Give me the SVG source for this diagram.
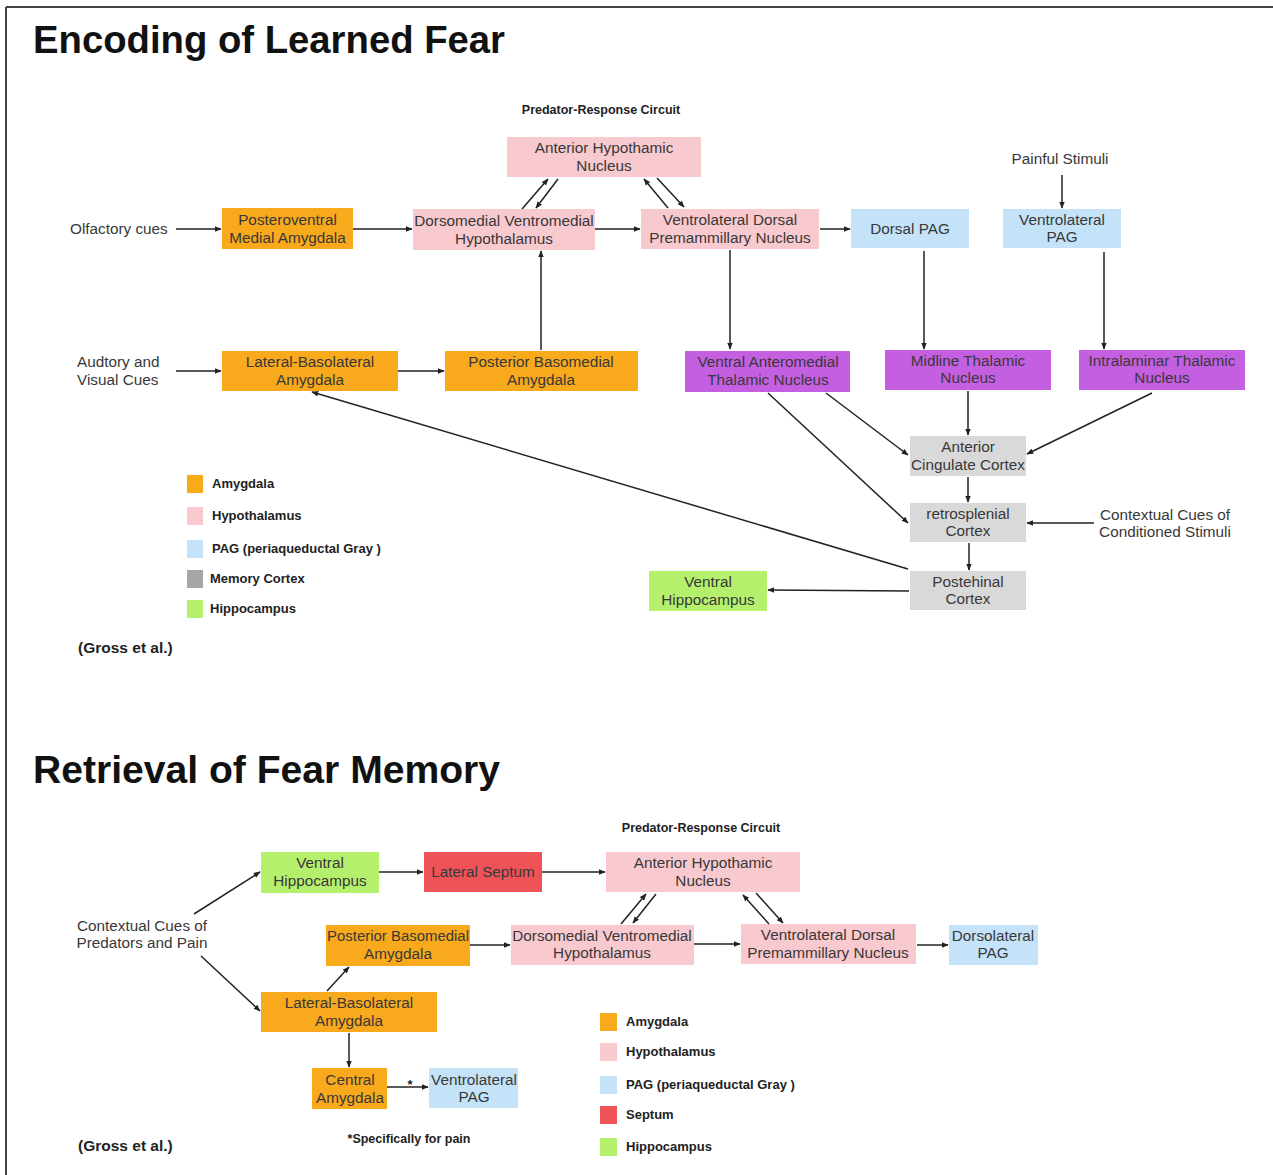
<svg xmlns="http://www.w3.org/2000/svg" width="1273" height="1175" viewBox="0 0 1273 1175">
<style>
  .t{font-family:"Liberation Sans",Arial,sans-serif;font-size:15.3px;fill:#383838;text-anchor:middle}
  .f{font-family:"Liberation Sans",Arial,sans-serif;font-size:15.3px;fill:#383838}
  .title{font-family:"Liberation Sans",Arial,sans-serif;font-size:38px;font-weight:bold;fill:#111}
  .lg{font-family:"Liberation Sans",Arial,sans-serif;font-size:13px;font-weight:bold;fill:#222}
  .sm{font-family:"Liberation Sans",Arial,sans-serif;font-size:12.5px;font-weight:bold;fill:#222;text-anchor:middle}
  .cite{font-family:"Liberation Sans",Arial,sans-serif;font-size:15.5px;font-weight:bold;fill:#222}
  .amy{fill:#f8a91c}
  .hyp{fill:#f8c9cf}
  .pag{fill:#c4e3f8}
  .thal{fill:#c55fe2}
  .ctx{fill:#d9d9d9}
  .hip{fill:#b5f06c}
  .sep{fill:#ef5358}
  .mem{fill:#a6a6a6}
  .c line{stroke:#222;stroke-width:1.5;fill:none;marker-end:url(#ah)}
</style>
<defs>
  <marker id="ah" viewBox="0 0 10 10" refX="9" refY="5" markerWidth="7" markerHeight="7" markerUnits="userSpaceOnUse" orient="auto">
    <path d="M0,1 L10,5 L0,9 z" fill="#222"/>
  </marker>
</defs>
<rect x="0" y="0" width="1273" height="1175" fill="#fff"/>
<g id="frame" stroke="#444" stroke-width="2">
  <line x1="6" y1="7" x2="1273" y2="7"/>
  <line x1="6" y1="7" x2="6" y2="1175"/>
</g>

<!-- ===== Encoding of Learned Fear ===== -->
<text class="title" x="33" y="53" textLength="472" lengthAdjust="spacingAndGlyphs">Encoding of Learned Fear</text>
<text class="sm" x="601" y="114">Predator-Response Circuit</text>
<text class="f" x="70" y="234">Olfactory cues</text>
<text class="f" x="77" y="367">Audtory and</text>
<text class="f" x="77" y="385">Visual Cues</text>
<text class="t" x="1060" y="164">Painful Stimuli</text>
<text class="t" x="1165" y="520">Contextual Cues of</text>
<text class="t" x="1165" y="537">Conditioned Stimuli</text>

<g id="e-ahn"><rect class="hyp" x="507" y="137" width="194" height="40"/><text class="t" x="604" y="153">Anterior Hypothamic</text><text class="t" x="604" y="171">Nucleus</text></g>
<g id="e-pvma"><rect class="amy" x="222" y="208" width="131" height="41"/><text class="t" x="287.5" y="225">Posteroventral</text><text class="t" x="287.5" y="243">Medial Amygdala</text></g>
<g id="e-dmvh"><rect class="hyp" x="413" y="209" width="182" height="41"/><text class="t" x="504" y="226">Dorsomedial Ventromedial</text><text class="t" x="504" y="244">Hypothalamus</text></g>
<g id="e-vdpn"><rect class="hyp" x="641" y="209" width="178" height="40"/><text class="t" x="730" y="225">Ventrolateral Dorsal</text><text class="t" x="730" y="243">Premammillary Nucleus</text></g>
<g id="e-dpag"><rect class="pag" x="851" y="209" width="118" height="39"/><text class="t" x="910" y="234">Dorsal PAG</text></g>
<g id="e-vlpag"><rect class="pag" x="1003" y="209" width="118" height="39"/><text class="t" x="1062" y="225">Ventrolateral</text><text class="t" x="1062" y="242">PAG</text></g>
<g id="e-lba"><rect class="amy" x="222" y="351" width="176" height="40"/><text class="t" x="310" y="367">Lateral-Basolateral</text><text class="t" x="310" y="385">Amygdala</text></g>
<g id="e-pbma"><rect class="amy" x="445" y="351" width="193" height="40"/><text class="t" x="541" y="367">Posterior Basomedial</text><text class="t" x="541" y="385">Amygdala</text></g>
<g id="e-vamt"><rect class="thal" x="685" y="351" width="165" height="41"/><text class="t" x="768" y="367">Ventral Anteromedial</text><text class="t" x="768" y="385">Thalamic Nucleus</text></g>
<g id="e-mtn"><rect class="thal" x="885" y="350" width="166" height="40"/><text class="t" x="968" y="366">Midline Thalamic</text><text class="t" x="968" y="383">Nucleus</text></g>
<g id="e-itn"><rect class="thal" x="1079" y="350" width="166" height="40"/><text class="t" x="1162" y="366">Intralaminar Thalamic</text><text class="t" x="1162" y="383">Nucleus</text></g>
<g id="e-acc"><rect class="ctx" x="910" y="436" width="116" height="40"/><text class="t" x="968" y="452">Anterior</text><text class="t" x="968" y="470">Cingulate Cortex</text></g>
<g id="e-rsc"><rect class="ctx" x="910" y="503" width="116" height="39"/><text class="t" x="968" y="519">retrosplenial</text><text class="t" x="968" y="536">Cortex</text></g>
<g id="e-poc"><rect class="ctx" x="910" y="571" width="116" height="39"/><text class="t" x="968" y="587">Postehinal</text><text class="t" x="968" y="604">Cortex</text></g>
<g id="e-vh"><rect class="hip" x="649" y="571" width="118" height="40"/><text class="t" x="708" y="587">Ventral</text><text class="t" x="708" y="605">Hippocampus</text></g>

<g id="e-legend">
  <rect class="amy" x="187" y="475" width="16" height="18"/><text class="lg" x="212" y="488">Amygdala</text>
  <rect class="hyp" x="187" y="507" width="16" height="18"/><text class="lg" x="212" y="520">Hypothalamus</text>
  <rect class="pag" x="187" y="540" width="16" height="18"/><text class="lg" x="212" y="553">PAG (periaqueductal Gray )</text>
  <rect class="mem" x="187" y="570" width="16" height="18"/><text class="lg" x="210" y="583">Memory Cortex</text>
  <rect class="hip" x="187" y="600" width="16" height="18"/><text class="lg" x="210" y="613">Hippocampus</text>
</g>
<text class="cite" x="78" y="653">(Gross et al.)</text>

<g id="e-connectors" class="c">
  <line x1="176" y1="229" x2="221" y2="229"/>
  <line x1="353" y1="229" x2="412" y2="229"/>
  <line x1="595" y1="229" x2="640" y2="229"/>
  <line x1="820" y1="229" x2="850" y2="229"/>
  <line x1="1062" y1="175" x2="1062" y2="208"/>
  <line x1="522" y1="209" x2="548" y2="179"/>
  <line x1="558" y1="179" x2="536" y2="208"/>
  <line x1="668" y1="208" x2="644" y2="179"/>
  <line x1="657" y1="178" x2="684" y2="207"/>
  <line x1="541" y1="350" x2="541" y2="251"/>
  <line x1="176" y1="371" x2="221" y2="371"/>
  <line x1="398" y1="371" x2="444" y2="371"/>
  <line x1="730" y1="250" x2="730" y2="349"/>
  <line x1="924" y1="251" x2="924" y2="349"/>
  <line x1="1104" y1="252" x2="1104" y2="349"/>
  <line x1="968" y1="391" x2="968" y2="435"/>
  <line x1="826" y1="393" x2="908" y2="455"/>
  <line x1="1152" y1="393" x2="1027" y2="454"/>
  <line x1="768" y1="393" x2="908" y2="523"/>
  <line x1="968" y1="477" x2="968" y2="502"/>
  <line x1="1094" y1="523" x2="1027" y2="523"/>
  <line x1="969" y1="543" x2="969" y2="570"/>
  <line x1="909" y1="591" x2="768" y2="590"/>
  <line x1="908" y1="569" x2="312" y2="392"/>
</g>

<!-- ===== Retrieval of Fear Memory ===== -->
<text class="title" x="33" y="783" textLength="467" lengthAdjust="spacingAndGlyphs">Retrieval of Fear Memory</text>
<text class="sm" x="701" y="832">Predator-Response Circuit</text>
<text class="t" x="142" y="931">Contextual Cues of</text>
<text class="t" x="142" y="948">Predators and Pain</text>

<g id="r-vh"><rect class="hip" x="261" y="852" width="118" height="41"/><text class="t" x="320" y="868">Ventral</text><text class="t" x="320" y="886">Hippocampus</text></g>
<g id="r-ls"><rect class="sep" x="424" y="852" width="118" height="40"/><text class="t" x="483" y="877">Lateral Septum</text></g>
<g id="r-ahn"><rect class="hyp" x="606" y="852" width="194" height="40"/><text class="t" x="703" y="868">Anterior Hypothamic</text><text class="t" x="703" y="886">Nucleus</text></g>
<g id="r-pbma"><rect class="amy" x="326" y="925" width="144" height="41"/><text class="t" x="398" y="941" textLength="142" lengthAdjust="spacingAndGlyphs">Posterior Basomedial</text><text class="t" x="398" y="959">Amygdala</text></g>
<g id="r-dmvh"><rect class="hyp" x="511" y="925" width="183" height="40"/><text class="t" x="602" y="941">Dorsomedial Ventromedial</text><text class="t" x="602" y="958">Hypothalamus</text></g>
<g id="r-vdpn"><rect class="hyp" x="741" y="924" width="175" height="40"/><text class="t" x="828" y="940">Ventrolateral Dorsal</text><text class="t" x="828" y="958">Premammillary Nucleus</text></g>
<g id="r-dlpag"><rect class="pag" x="949" y="925" width="89" height="40"/><text class="t" x="993" y="941">Dorsolateral</text><text class="t" x="993" y="958">PAG</text></g>
<g id="r-lba"><rect class="amy" x="261" y="992" width="176" height="40"/><text class="t" x="349" y="1008">Lateral-Basolateral</text><text class="t" x="349" y="1026">Amygdala</text></g>
<g id="r-ca"><rect class="amy" x="312" y="1068" width="75" height="41"/><text class="t" x="350" y="1085">Central</text><text class="t" x="350" y="1103">Amygdala</text></g>
<g id="r-vlpag"><rect class="pag" x="429" y="1068" width="89" height="40"/><text class="t" x="474" y="1085">Ventrolateral</text><text class="t" x="474" y="1102">PAG</text></g>

<text class="sm" x="410" y="1089" style="font-size:13px">*</text>
<text class="sm" x="409" y="1143">*Specifically for pain</text>
<text class="cite" x="78" y="1151">(Gross et al.)</text>

<g id="r-legend">
  <rect class="amy" x="600" y="1013" width="17" height="18"/><text class="lg" x="626" y="1026">Amygdala</text>
  <rect class="hyp" x="600" y="1043" width="17" height="18"/><text class="lg" x="626" y="1056">Hypothalamus</text>
  <rect class="pag" x="600" y="1076" width="17" height="18"/><text class="lg" x="626" y="1089">PAG (periaqueductal Gray )</text>
  <rect class="sep" x="600" y="1106" width="17" height="18"/><text class="lg" x="626" y="1119">Septum</text>
  <rect class="hip" x="600" y="1138" width="17" height="18"/><text class="lg" x="626" y="1151">Hippocampus</text>
</g>

<g id="r-connectors" class="c">
  <line x1="194" y1="914" x2="260" y2="872"/>
  <line x1="201" y1="956" x2="260" y2="1011"/>
  <line x1="379" y1="872" x2="423" y2="872"/>
  <line x1="542" y1="872" x2="605" y2="872"/>
  <line x1="621" y1="924" x2="646" y2="894"/>
  <line x1="656" y1="894" x2="633" y2="923"/>
  <line x1="769" y1="924" x2="743" y2="895"/>
  <line x1="756" y1="893" x2="783" y2="923"/>
  <line x1="470" y1="945" x2="510" y2="945"/>
  <line x1="694" y1="944" x2="740" y2="944"/>
  <line x1="917" y1="945" x2="948" y2="945"/>
  <line x1="327" y1="991" x2="349" y2="967"/>
  <line x1="349" y1="1033" x2="349" y2="1067"/>
  <line x1="387" y1="1087" x2="428" y2="1087"/>
</g>
</svg>
